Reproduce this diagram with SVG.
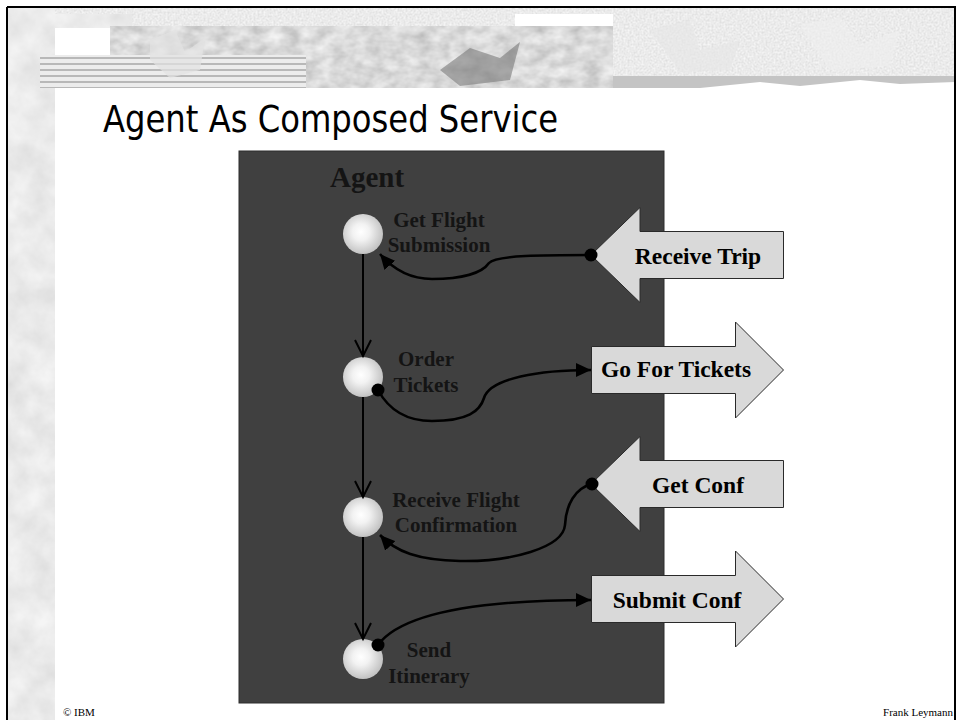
<svg xmlns="http://www.w3.org/2000/svg" width="958" height="720" viewBox="0 0 958 720">
<defs>
<style>
.node-label{font-family:"Liberation Serif","Times New Roman",serif;font-weight:bold;font-size:21px;fill:#141414;text-anchor:middle}
.arrow-label{font-family:"Liberation Serif","Times New Roman",serif;font-weight:bold;font-size:23.5px;fill:#000;text-anchor:middle}
.block{fill:#d9d9d9;stroke:#2a2a2a;stroke-width:1}
.flow{fill:none;stroke:#000;stroke-width:2}
.conn{fill:none;stroke:#000;stroke-width:2.6}
.vhead{fill:none;stroke:#000;stroke-width:2}
.dot{fill:#000}
.foot{font-family:"Liberation Serif","Times New Roman",serif;font-size:11px;fill:#000}
</style>
<radialGradient id="ball" cx="0.45" cy="0.45" r="0.6">
<stop offset="0" stop-color="#ffffff"/>
<stop offset="0.35" stop-color="#f2f2f2"/>
<stop offset="1" stop-color="#bcbcbc"/>
</radialGradient>
<marker id="tri" markerUnits="userSpaceOnUse" markerWidth="16" markerHeight="14" viewBox="0 0 16 14" refX="15" refY="7" orient="auto">
<path d="M0,0 L15,7 L0,14 z" fill="#000"/>
</marker>
<filter id="marble" x="0" y="0" width="1" height="1" filterUnits="objectBoundingBox">
<feTurbulence type="fractalNoise" baseFrequency="0.035" numOctaves="4" seed="7"/>
<feColorMatrix type="matrix" values="0.25 0 0 0 0.70  0.25 0 0 0 0.70  0.25 0 0 0 0.70  0 0 0 0 1"/>
</filter>
<filter id="leafy" x="0" y="0" width="1" height="1" filterUnits="objectBoundingBox">
<feTurbulence type="fractalNoise" baseFrequency="0.06 0.09" numOctaves="3" seed="2"/>
<feColorMatrix type="matrix" values="0.5 0 0 0 0.45  0.5 0 0 0 0.45  0.5 0 0 0 0.45  0 0 0 0 1"/>
</filter>
<filter id="light" x="0" y="0" width="1" height="1" filterUnits="objectBoundingBox">
<feTurbulence type="fractalNoise" baseFrequency="0.5" numOctaves="2" seed="4"/>
<feColorMatrix type="matrix" values="0.3 0 0 0 0.68  0.3 0 0 0 0.68  0.3 0 0 0 0.68  0 0 0 0 1"/>
</filter>
<pattern id="stripes" width="6" height="6" patternUnits="userSpaceOnUse">
<rect width="6" height="6" fill="#ececec"/>
<rect y="3" width="6" height="2" fill="#b8b8b8"/>
</pattern>
</defs>

<rect width="958" height="720" fill="#ffffff"/>

<g id="background">
<rect x="8" y="8" width="47" height="712" filter="url(#marble)"/>
<rect x="55" y="8" width="900" height="6" filter="url(#light)"/>
<rect x="55" y="14" width="77" height="14" filter="url(#marble)"/>
<rect x="132" y="12" width="383" height="16" filter="url(#light)"/>
<rect x="110" y="26" width="503" height="62" filter="url(#leafy)"/>
<rect x="40" y="55" width="266" height="33" fill="url(#stripes)"/>
<rect x="613" y="12" width="342" height="64" filter="url(#light)"/>
<path d="M613,76 L955,76 L955,82 L900,84 L860,80 L800,86 L760,82 L700,88 L613,88 z" fill="#c4c4c4"/>
<path d="M150,40 L175,30 L185,52 L205,38 L200,70 L170,78 L150,60 z" fill="#e2e2e2" opacity="0.7"/>
<path d="M440,70 L470,48 L500,58 L520,42 L510,80 L460,86 z" fill="#7a7a7a" opacity="0.6"/>
<path d="M650,30 L690,20 L700,50 L740,40 L730,70 L680,72 z" fill="#e6e6e6" opacity="0.6"/>
<path d="M800,25 L840,18 L860,45 L900,30 L890,66 L830,70 z" fill="#eeeeee" opacity="0.6"/>
</g>

<g id="frame" stroke="#000" stroke-width="2" fill="none">
<line x1="7" y1="7" x2="956" y2="7"/>
<line x1="7" y1="7" x2="7" y2="720"/>
<line x1="955" y1="7" x2="955" y2="720"/>
</g>

<g id="title">
<text x="103" y="132" font-family="'DejaVu Sans','Noto Sans',sans-serif" font-size="38" fill="#000" textLength="455" lengthAdjust="spacingAndGlyphs">Agent As Composed Service</text>
</g>

<g id="agent-box">
<rect x="239" y="151" width="425" height="552" fill="#404040" stroke="#2c2c2c" stroke-width="1"/>
<text x="330" y="187" font-family="'Liberation Serif','Times New Roman',serif" font-weight="bold" font-size="29" fill="#141414">Agent</text>
</g>

<g id="node-get-flight-submission">
<circle cx="363" cy="234" r="20" fill="url(#ball)"/>
<text class="node-label" x="439" y="227">Get Flight</text>
<text class="node-label" x="439" y="252">Submission</text>
</g>

<g id="node-order-tickets">
<circle cx="363" cy="377" r="20" fill="url(#ball)"/>
<text class="node-label" x="426" y="366">Order</text>
<text class="node-label" x="426" y="392">Tickets</text>
</g>

<g id="node-receive-flight-confirmation">
<circle cx="363" cy="517" r="20" fill="url(#ball)"/>
<text class="node-label" x="456" y="507">Receive Flight</text>
<text class="node-label" x="456" y="532">Confirmation</text>
</g>

<g id="node-send-itinerary">
<circle cx="363" cy="659" r="20" fill="url(#ball)"/>
<text class="node-label" x="429" y="657">Send</text>
<text class="node-label" x="429" y="683">Itinerary</text>
</g>

<g id="node-receive-trip">
<polygon class="block" points="591,255 640,207.5 640,231.5 783.5,231.5 783.5,278.5 640,278.5 640,302.5"/>
<text class="arrow-label" x="698" y="264">Receive Trip</text>
</g>

<g id="node-go-for-tickets">
<polygon class="block" points="591.5,346.5 735.5,346.5 735.5,322 783.5,370 735.5,418 735.5,393.5 591.5,393.5"/>
<text class="arrow-label" x="676" y="377">Go For Tickets</text>
</g>

<g id="node-get-conf">
<polygon class="block" points="591,484 640,436.5 640,460.5 783.5,460.5 783.5,507.5 640,507.5 640,531.5"/>
<text class="arrow-label" x="698" y="493">Get Conf</text>
</g>

<g id="node-submit-conf">
<polygon class="block" points="591.5,575.5 735.5,575.5 735.5,551 783.5,599 735.5,647 735.5,622.5 591.5,622.5"/>
<text class="arrow-label" x="677" y="608">Submit Conf</text>
</g>

<g id="connectors">
<line class="flow" x1="363" y1="254" x2="363" y2="356"/>
<polyline class="vhead" points="355,340 363,356 371,340"/>
<line class="flow" x1="363" y1="397" x2="363" y2="497"/>
<polyline class="vhead" points="355,481 363,497 371,481"/>
<line class="flow" x1="363" y1="537" x2="363" y2="639"/>
<polyline class="vhead" points="355,623 363,639 371,623"/>

<path class="conn" d="M591,255 C545,255 496,255 489,263 C482,273 462,279 432,279 C408,279 392,268 380,254" marker-end="url(#tri)"/>
<circle class="dot" cx="591" cy="255" r="6.5"/>

<path class="conn" d="M378,390 C390,412 410,421 432,421 C468,421 480,411 484,398 C490,378 540,370 591,370" marker-end="url(#tri)"/>
<circle class="dot" cx="378" cy="390" r="6.5"/>

<path class="conn" d="M592,484 C575,488 566,505 565,525 C563,548 510,562 460,561 C418,560 396,552 380,535" marker-end="url(#tri)"/>
<circle class="dot" cx="592" cy="484" r="6.5"/>

<path class="conn" d="M378,645 C400,615 470,600 591,600" marker-end="url(#tri)"/>
<circle class="dot" cx="378" cy="645" r="6.5"/>
</g>

<g id="footer">
<text class="foot" x="63" y="716">© IBM</text>
<text class="foot" x="953" y="716" text-anchor="end">Frank Leymann</text>
</g>
</svg>
